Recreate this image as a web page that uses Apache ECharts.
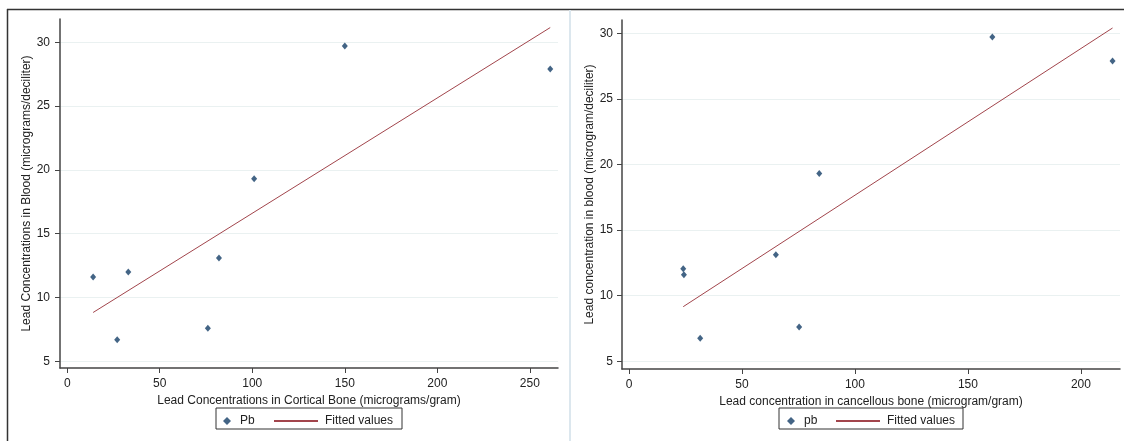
<!DOCTYPE html>
<html>
<head>
<meta charset="utf-8">
<script src="https://cdn.jsdelivr.net/npm/echarts@6/dist/echarts.min.js"></script>
<style>html,body{margin:0;padding:0;background:#fff}#c{width:1124px;height:441px}</style>
</head>
<body>
<div id="c"></div>
<script>
// Left panel: cortical bone
const corticalX = [14, 27, 33, 76, 82, 101, 150, 261];
const corticalY = [11.6, 6.7, 12.0, 7.6, 13.1, 19.3, 29.7, 27.9];
const corticalFitX = [14, 261];
const corticalFitY = [8.83, 31.15];
// Right panel: cancellous bone
const cancellousX = [24, 24.3, 31.5, 65, 75.3, 84.2, 160.8, 214];
const cancellousY = [12.06, 11.6, 6.75, 13.12, 7.61, 19.31, 29.72, 27.89];
const cancellousFitX = [24, 214];
const cancellousFitY = [9.16, 30.4];
// Tick labels
const leftXTicks = [0, 50, 100, 150, 200, 250];
const rightXTicks = [0, 50, 100, 150, 200];
const yTicks = [5, 10, 15, 20, 25, 30];

const pairs = (xs, ys) => xs.map((x, i) => [x, ys[i]]);
const FONT = 'Liberation Sans, Arial, sans-serif';
const TXT = '#222';
const NAVY = '#143d66';
const MAROON = '#a2454c';

function xAx(grid, min, max, ticks, name) {
  return {
    type: 'value', gridIndex: grid, min: min, max: max,
    name: name, nameLocation: 'middle', nameGap: 27,
    nameTextStyle: {fontFamily: FONT, fontSize: 12, color: TXT},
    axisLine: {show: true, onZero: false, lineStyle: {color: '#444', width: 1.5}},
    axisTick: {show: true, length: 5, customValues: ticks, lineStyle: {color: '#444'}},
    axisLabel: {customValues: ticks, margin: 10, fontFamily: FONT, fontSize: 12, color: TXT},
    splitLine: {show: false}
  };
}
function yAx(grid, min, max, name, labelMargin, gap) {
  return {
    type: 'value', gridIndex: grid, min: min, max: max,
    name: name, nameLocation: 'middle', nameGap: gap,
    nameTextStyle: {fontFamily: FONT, fontSize: 12, color: TXT},
    axisLine: {show: true, onZero: false, lineStyle: {color: '#444', width: 1.5}},
    axisTick: {show: true, length: 5, customValues: yTicks, lineStyle: {color: '#444'}},
    axisLabel: {customValues: yTicks, margin: labelMargin, fontFamily: FONT, fontSize: 12, color: TXT},
    splitLine: {show: true, lineStyle: {color: '#eaf1f1', width: 1}}
  };
}
const legText = {fontFamily: FONT, fontSize: 12, color: TXT};

const chart = echarts.init(document.getElementById('c'), null, {renderer: 'canvas'});
chart.setOption({
  animation: false,
  backgroundColor: '#fff',
  grid: [
    {left: 60, right: 566, top: 19, bottom: 73},
    {left: 622, right: 4, top: 20, bottom: 72}
  ],
  xAxis: [
    xAx(0, -3.9, 265.2, leftXTicks, 'Lead Concentrations in Cortical Bone (micrograms/gram)'),
    xAx(1, -3.1, 217.3, rightXTicks, 'Lead concentration in cancellous bone (microgram/gram)')
  ],
  yAxis: [
    yAx(0, 4.48, 31.82, 'Lead Concentrations in Blood (micrograms/deciliter)', 10, 24),
    yAx(1, 4.41, 31.01, 'Lead concentration in blood (microgram/deciliter)', 9, 25)
  ],
  legend: [
    {data: ['Pb'], left: 218, top: 410, itemWidth: 8, itemHeight: 8, itemGap: 0,
     textStyle: Object.assign({padding: [0, 0, 0, 4]}, legText), selectedMode: false},
    {data: ['Fitted values'], left: 268, top: 410, itemWidth: 44, itemHeight: 8,
     itemStyle: {opacity: 0}, textStyle: Object.assign({padding: [0, 0, 0, 2]}, legText), selectedMode: false},
    {data: ['pb'], left: 782, top: 410, itemWidth: 8, itemHeight: 8, itemGap: 0,
     textStyle: Object.assign({padding: [0, 0, 0, 4]}, legText), selectedMode: false},
    {data: ['Fitted values'], left: 830, top: 410, itemWidth: 44, itemHeight: 8,
     itemStyle: {opacity: 0}, textStyle: Object.assign({padding: [0, 0, 0, 2]}, legText), selectedMode: false}
  ],
  graphic: [
    {type: 'line', shape: {x1: 7, y1: 9.5, x2: 1124, y2: 9.5}, style: {stroke: '#333', lineWidth: 1.5}, silent: true},
    {type: 'line', shape: {x1: 7.5, y1: 9, x2: 7.5, y2: 441}, style: {stroke: '#333', lineWidth: 1.5}, silent: true},
    {type: 'line', shape: {x1: 570, y1: 10, x2: 570, y2: 441}, style: {stroke: '#dce7ee', lineWidth: 2}, silent: true},
    {type: 'rect', shape: {x: 216, y: 408, width: 186, height: 21}, style: {fill: 'none', stroke: '#333', lineWidth: 1}, silent: true},
    {type: 'rect', shape: {x: 779, y: 408, width: 184, height: 21}, style: {fill: 'none', stroke: '#333', lineWidth: 1}, silent: true}
  ],
  series: [
    {name: 'Pb', type: 'scatter', xAxisIndex: 0, yAxisIndex: 0, symbol: 'diamond', symbolSize: [6, 7],
     itemStyle: {color: NAVY}, data: pairs(corticalX, corticalY)},
    {name: 'Fitted values', type: 'line', xAxisIndex: 0, yAxisIndex: 0, symbol: 'none',
     lineStyle: {color: MAROON, width: 1}, itemStyle: {color: MAROON}, data: pairs(corticalFitX, corticalFitY)},
    {name: 'pb', type: 'scatter', xAxisIndex: 1, yAxisIndex: 1, symbol: 'diamond', symbolSize: [6, 7],
     itemStyle: {color: NAVY}, data: pairs(cancellousX, cancellousY)},
    {name: 'Fitted values', type: 'line', xAxisIndex: 1, yAxisIndex: 1, symbol: 'none',
     lineStyle: {color: MAROON, width: 1}, itemStyle: {color: MAROON}, data: pairs(cancellousFitX, cancellousFitY)}
  ]
});
</script>
</body>
</html>
